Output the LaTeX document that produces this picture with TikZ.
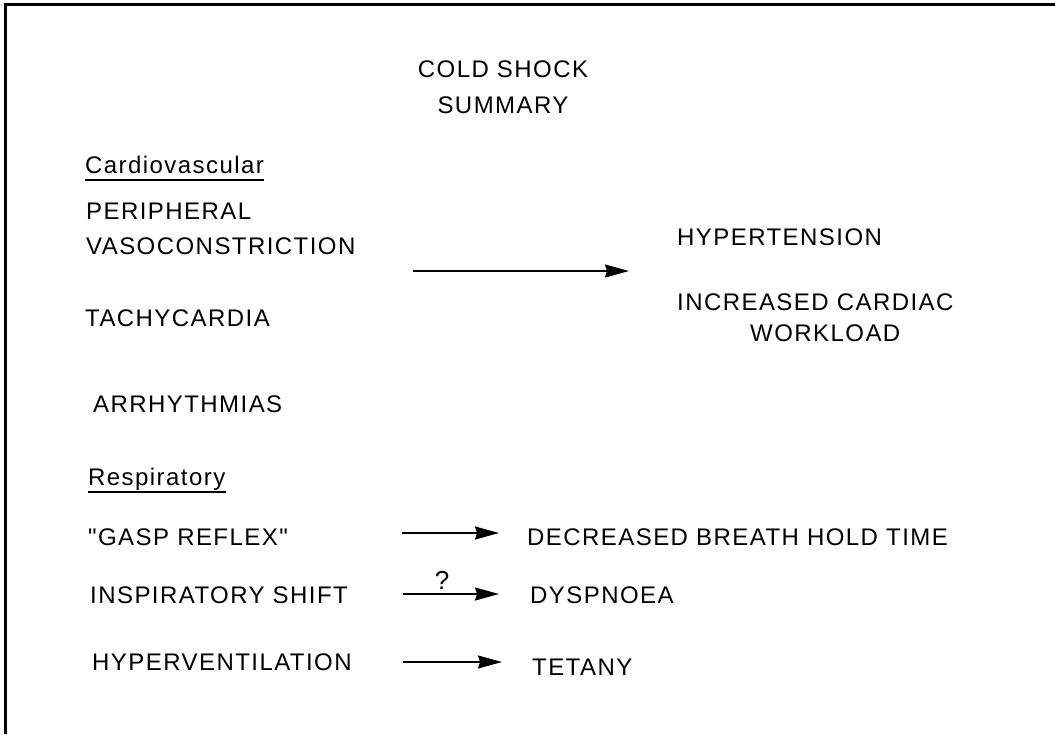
\documentclass[tikz,border=0pt]{standalone}
\usepackage{fontspec}
\setmainfont{Liberation Sans}[LetterSpace=6,Ligatures=TeXOff]
\usetikzlibrary{arrows.meta}
\begin{document}
\begin{tikzpicture}[x=1pt,y=-1pt,
  lbl/.style={anchor=base west,inner sep=0pt,font=\fontsize{24}{30}\selectfont},
  ttl/.style={anchor=base,inner sep=0pt,font=\fontsize{24}{30}\selectfont},
  arr/.style={line width=1.5pt,-{Stealth[length=24pt,width=13pt,inset=2pt]}},
  frameline/.style={line width=2.5pt},
  uline/.style={line width=1.5pt}]
\useasboundingbox (0,0) rectangle (1055,734);
% frame (top and left edges only)
\coordinate (ftr) at (1055,4.5);
\coordinate (ftl) at (5.5,4.5);
\coordinate (fbl) at (5.5,734);
\draw[frameline] (ftr) -- (ftl) -- (fbl);
% title
\node[ttl] (t1) at (503,77) {COLD SHOCK};
\node[ttl] (t2) at (503,113) {SUMMARY};
% cardiovascular
\node[lbl] (card) at (85,173) {Cardiovascular};
\draw[uline] ([yshift=-7pt]card.base west) -- ([yshift=-7pt]card.base east);
\node[lbl] (per) at (86,219) {PERIPHERAL};
\node[lbl] (vaso) at (86,254) {VASOCONSTRICTION};
\node[lbl] (tachy) at (85,326) {TACHYCARDIA};
\node[lbl] (arrh) at (93,412) {ARRHYTHMIAS};
\node[lbl] (hyper) at (677,245) {HYPERTENSION};
\node[lbl] (incr) at (677,310) {INCREASED CARDIAC};
\node[lbl] (work) at (750,341) {WORKLOAD};
\coordinate (a1s) at (413,271);
\coordinate (a1e) at (629,271);
\draw[arr] (a1s) -- (a1e);
% respiratory
\node[lbl] (resp) at (88,485) {Respiratory};
\draw[uline] ([yshift=-7pt]resp.base west) -- ([yshift=-7pt]resp.base east);
\node[lbl] (gasp) at (88,545) {"GASP REFLEX"};
\node[lbl] (insp) at (90,603) {INSPIRATORY SHIFT};
\node[lbl] (hvent) at (92,670) {HYPERVENTILATION};
\node[lbl] (dec) at (527,545) {DECREASED BREATH HOLD TIME};
\node[lbl] (dysp) at (530,603) {DYSPNOEA};
\node[lbl] (tet) at (532,675) {TETANY};
\coordinate (a2s) at (402,533);
\coordinate (a2e) at (499,533);
\coordinate (a3s) at (403,594);
\coordinate (a3e) at (499,594);
\coordinate (a4s) at (403,662);
\coordinate (a4e) at (502,662);
\draw[arr] (a2s) -- (a2e);
\draw[arr] (a3s) -- (a3e);
\node[anchor=base,inner sep=0pt,font=\fontsize{26}{30}\selectfont] (q) at (442,589) {?};
\draw[arr] (a4s) -- (a4e);
\end{tikzpicture}
\end{document}
